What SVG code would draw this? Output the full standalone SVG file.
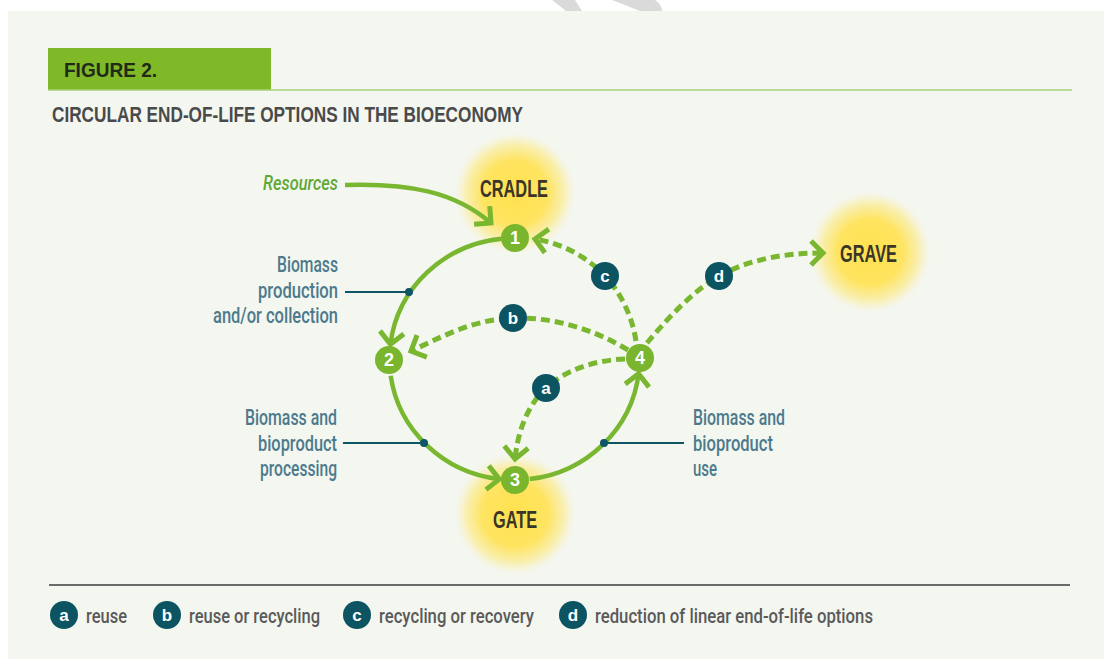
<svg xmlns="http://www.w3.org/2000/svg" width="1104" height="659" viewBox="0 0 1104 659">
  <defs>
    <style>
      .f { font-family: "Liberation Sans", Arial, sans-serif; }
      .r { font-family: Roboto, "Liberation Sans", Arial, sans-serif; }
      .hdr { font-weight: bold; font-size: 21px; fill: #1f2a18; }
      .title { font-weight: bold; font-size: 22px; fill: #4a4a4a; }
      .stage { font-weight: bold; font-size: 23px; fill: #3a3528; }
      .lbl { font-weight: 500; font-size: 22px; fill: #4c7a8c; }
      .leg { font-weight: 500; font-size: 20px; fill: #5a5a5a; }
      .num { font-weight: bold; font-size: 18px; fill: #ffffff; text-anchor: middle; }
      .let { font-weight: bold; font-size: 17px; fill: #ffffff; text-anchor: middle; }
      .res { font-style: italic; font-weight: 500; font-size: 21px; fill: #5fa836; }
      .solid { fill: none; stroke: #7ab730; stroke-width: 4.5; }
      .dash { fill: none; stroke: #7ab730; stroke-width: 5; stroke-dasharray: 9 5; }
      .node { fill: #79b52d; }
      .tag { fill: #0c5462; }
      .call { stroke: #0e5566; stroke-width: 2; fill: none; }
      .dot { fill: #0e5566; }
    </style>
    <radialGradient id="glow" cx="0.5" cy="0.5" r="0.5">
      <stop offset="0" stop-color="#ffe14d" stop-opacity="1"/>
      <stop offset="0.55" stop-color="#ffe35a" stop-opacity="0.95"/>
      <stop offset="0.8" stop-color="#fde872" stop-opacity="0.55"/>
      <stop offset="1" stop-color="#fdf0a0" stop-opacity="0"/>
    </radialGradient>
    <marker id="chev" markerUnits="userSpaceOnUse" viewBox="-20 -20 40 40" markerWidth="40" markerHeight="40" refX="0" refY="0" orient="auto" overflow="visible">
      <path d="M-12,-12 L0,0 L-12,12" fill="none" stroke="#7ab730" stroke-width="5" stroke-dasharray="none"/>
    </marker>
  </defs>

  <rect x="0" y="0" width="1104" height="659" fill="#ffffff"/>
  <path d="M552,0 L575,0 L582,11 L566,11 Z" fill="#dadada"/>
  <path d="M612,0 L655,0 Q662,5 662,11 L640,11 Z" fill="#dadada"/>
  <rect id="panel" x="8" y="11" width="1096" height="648" fill="#f4f6f0"/>

  <g id="header">
    <rect x="48" y="48" width="223" height="42" fill="#80b927"/>
    <line x1="48" y1="90" x2="1072" y2="90" stroke="#a9d07a" stroke-width="1.5"/>
    <text class="f hdr" x="64" y="77" textLength="93" lengthAdjust="spacingAndGlyphs">FIGURE 2.</text>
    <text class="f title" x="52" y="122" textLength="471" lengthAdjust="spacingAndGlyphs">CIRCULAR END-OF-LIFE OPTIONS IN THE BIOECONOMY</text>
  </g>

  <g id="glows">
    <circle cx="515" cy="193" r="60" fill="url(#glow)"/>
    <circle cx="515" cy="514" r="60" fill="url(#glow)"/>
    <circle cx="870" cy="252" r="60" fill="url(#glow)"/>
  </g>

  <g id="connectors">
    <path class="solid" d="M345,185 C410,183 455,192 491,223" marker-end="url(#chev)"/>
    <path class="solid" d="M501.4,238.7 A125,121 0 0 0 390.4,344.3" marker-end="url(#chev)"/>
    <path class="solid" d="M390.7,375.8 A125,121 0 0 0 499.3,479.1" marker-end="url(#chev)"/>
    <path class="solid" d="M529.7,479.1 A125,121 0 0 0 638.6,373.7" marker-end="url(#chev)"/>
    <path class="dash" d="M625,359 C595,360 565,370 546,388 C528,405 518,430 515,459" marker-end="url(#chev)"/>
    <path class="dash" d="M628,350 C595,330 555,317 513,318 C470,320 440,338 411,351" marker-end="url(#chev)"/>
    <path class="dash" d="M636,341 C632,315 620,292 605,276 C588,258 565,244 535,239" marker-end="url(#chev)"/>
    <path class="dash" d="M647,343 C668,318 692,292 719,276 C750,259 785,253 823,253" marker-end="url(#chev)"/>
    <line class="call" x1="345" y1="292" x2="409" y2="292"/>
    <circle class="dot" cx="409" cy="292" r="4"/>
    <line class="call" x1="343" y1="443" x2="424" y2="443"/>
    <circle class="dot" cx="424" cy="443" r="4"/>
    <line class="call" x1="604" y1="443" x2="684" y2="443"/>
    <circle class="dot" cx="604" cy="443" r="4"/>
  </g>

  <g id="resources">
    <text class="r res" x="263" y="190" textLength="75" lengthAdjust="spacingAndGlyphs">Resources</text>
  </g>
  <g id="cradle">
    <text class="f stage" x="480" y="197" textLength="68" lengthAdjust="spacingAndGlyphs">CRADLE</text>
  </g>
  <g id="gate">
    <text class="f stage" x="493" y="528" textLength="44" lengthAdjust="spacingAndGlyphs">GATE</text>
  </g>
  <g id="grave">
    <text class="f stage" x="840" y="262" textLength="57" lengthAdjust="spacingAndGlyphs">GRAVE</text>
  </g>

  <g id="node-1"><circle class="node" cx="515" cy="238" r="14"/><text class="f num" x="515" y="244">1</text></g>
  <g id="node-2"><circle class="node" cx="389" cy="360" r="14"/><text class="f num" x="389" y="366">2</text></g>
  <g id="node-3"><circle class="node" cx="515" cy="480" r="14"/><text class="f num" x="515" y="486">3</text></g>
  <g id="node-4"><circle class="node" cx="640" cy="358" r="14"/><text class="f num" x="640" y="364">4</text></g>

  <g id="tag-a"><circle class="tag" cx="546" cy="388" r="14"/><text class="f let" x="546" y="394">a</text></g>
  <g id="tag-b"><circle class="tag" cx="513" cy="318" r="14"/><text class="f let" x="513" y="324">b</text></g>
  <g id="tag-c"><circle class="tag" cx="605" cy="276" r="14"/><text class="f let" x="605" y="282">c</text></g>
  <g id="tag-d"><circle class="tag" cx="719" cy="276" r="14"/><text class="f let" x="719" y="282">d</text></g>

  <g id="label-production">
    <text class="r lbl" x="277" y="272" textLength="61" lengthAdjust="spacingAndGlyphs">Biomass</text>
    <text class="r lbl" x="258" y="298" textLength="80" lengthAdjust="spacingAndGlyphs">production</text>
    <text class="r lbl" x="213" y="323" textLength="125" lengthAdjust="spacingAndGlyphs">and/or collection</text>
  </g>
  <g id="label-processing">
    <text class="r lbl" x="245" y="425" textLength="92" lengthAdjust="spacingAndGlyphs">Biomass and</text>
    <text class="r lbl" x="258" y="451" textLength="79" lengthAdjust="spacingAndGlyphs">bioproduct</text>
    <text class="r lbl" x="260" y="476" textLength="77" lengthAdjust="spacingAndGlyphs">processing</text>
  </g>
  <g id="label-use">
    <text class="r lbl" x="693" y="425" textLength="92" lengthAdjust="spacingAndGlyphs">Biomass and</text>
    <text class="r lbl" x="693" y="451" textLength="80" lengthAdjust="spacingAndGlyphs">bioproduct</text>
    <text class="r lbl" x="693" y="476" textLength="24" lengthAdjust="spacingAndGlyphs">use</text>
  </g>

  <g id="legend">
    <line x1="49" y1="585" x2="1070" y2="585" stroke="#6b6b6b" stroke-width="2"/>
    <circle class="tag" cx="64" cy="615" r="14"/><text class="f let" x="64" y="621">a</text>
    <text class="r leg" x="86" y="623" textLength="41" lengthAdjust="spacingAndGlyphs">reuse</text>
    <circle class="tag" cx="167" cy="615" r="14"/><text class="f let" x="167" y="621">b</text>
    <text class="r leg" x="189" y="623" textLength="131" lengthAdjust="spacingAndGlyphs">reuse or recycling</text>
    <circle class="tag" cx="357" cy="615" r="14"/><text class="f let" x="357" y="621">c</text>
    <text class="r leg" x="379" y="623" textLength="155" lengthAdjust="spacingAndGlyphs">recycling or recovery</text>
    <circle class="tag" cx="573" cy="615" r="14"/><text class="f let" x="573" y="621">d</text>
    <text class="r leg" x="595" y="623" textLength="278" lengthAdjust="spacingAndGlyphs">reduction of linear end-of-life options</text>
  </g>
</svg>
